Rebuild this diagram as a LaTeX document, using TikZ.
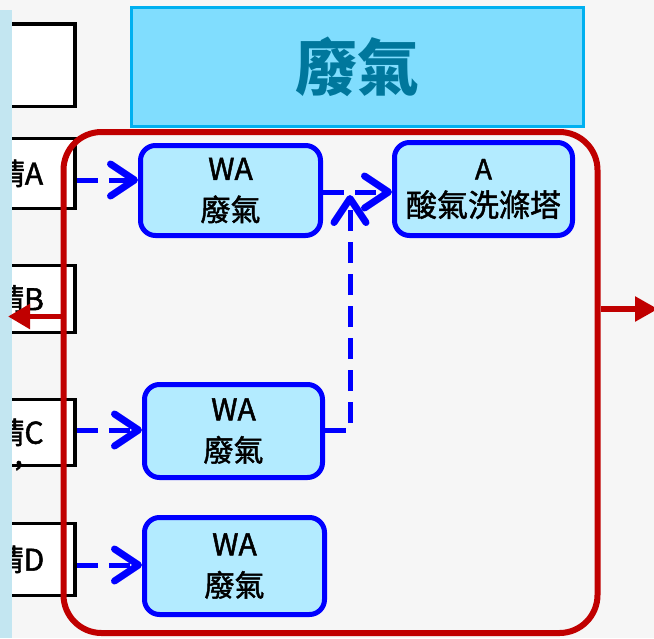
\documentclass[tikz,border=0pt]{standalone}
\usepackage{fontspec}
\setmainfont{Noto Sans CJK TC}
\newfontfamily\medfont{Noto Sans CJK TC}[FakeBold=1.6]
\usetikzlibrary{arrows.meta}
\definecolor{wallred}{HTML}{C00000}
\definecolor{gasblue}{HTML}{0000FF}
\definecolor{gasfill}{HTML}{B3EBFF}
\definecolor{headfill}{HTML}{80DDFE}
\definecolor{headline}{HTML}{00B0F0}
\definecolor{headtext}{HTML}{00779C}
\definecolor{sidebar}{HTML}{C3E6F1}
\definecolor{paper}{HTML}{F6F6F6}

\begin{document}
\begin{tikzpicture}[x=1pt, y=-1pt,
    sidebox/.style={draw=black, line width=3.5pt, fill=white, minimum width=112pt, inner sep=0pt, font=\medfont\fontsize{30}{36}\selectfont},
    gasbox/.style={draw=gasblue, line width=5pt, fill=gasfill, rounded corners=15pt, align=center, inner sep=0pt, font=\medfont\fontsize{30}{41}\selectfont},
    flow/.style={gasblue, line width=5pt, dash pattern=on 21pt off 11pt, -{Straight Barb[length=24pt,width=32pt,line width=0pt 1.4,round]}},
    exhaust/.style={wallred, line width=5.5pt, -{Triangle[length=22pt,width=24pt]}}]
  \useasboundingbox (0,0) rectangle (654,638);
  \fill[paper] (0,0) rectangle (654,638);
  % inlet boxes, cut off at the left edge
  \foreach \n/\y/\h/\t in {inT/65/82.5/{}, inA/173.5/70/請A, inB/299/67/請B, inC/432.5/66/{請C\rlap{\hspace{-29pt}\smash{\raisebox{-21pt}{,}}}}, inD/559.5/72/請D}
    \node[sidebox, minimum height=\h] (\n) at (19,\y) {\t};
  \fill[sidebar] (0,10) rectangle (12,638);
  \node[draw=headline, line width=3pt, fill=headfill, minimum width=452pt, minimum height=119pt, text=headtext, font=\fontsize{62}{70}\selectfont\bfseries] (head) at (357.5,67) {廢氣};
  \node[draw=wallred, line width=6pt, rounded corners=38pt, minimum width=534pt, minimum height=501pt] (wall) at (330.5,382.5) {};
  % waste gas sources and scrubber
  \node[gasbox, minimum width=180pt, minimum height=90pt] (wa1) at (230.5,190.5) {WA\\廢氣};
  \node[gasbox, minimum width=178pt, minimum height=93pt] (wa2) at (233.5,431) {WA\\廢氣};
  \node[gasbox, minimum width=180pt, minimum height=97pt] (wa3) at (234.5,566) {WA\\廢氣};
  \node[gasbox, minimum width=178pt, minimum height=93pt, font=\medfont\fontsize{31}{37}\selectfont] (scrub) at (483.5,189) {{\fontsize{28}{30}\selectfont A}\\酸氣洗滌塔};
  \coordinate (join) at (350,195);
  \coordinate (outW) at (8,316.5);
  \coordinate (outE) at (658,309);
  \draw[flow] ([yshift=-6.5pt]inA.east) -- ([yshift=10.5pt]wa1.west);
  \draw[flow] ([yshift=2.5pt]inC.east) -- ([yshift=1pt]wa2.west);
  \draw[flow] ([yshift=-5.5pt]inD.east) -- ([yshift=1pt]wa3.west);
  \draw[flow] ([yshift=-1.5pt]wa1.east) -- ([yshift=-3pt]scrub.west);
  \draw[flow] ([yshift=1pt]wa2.east) -| (join);
  \draw[exhaust] (wall.west |- outW) -- (outW);
  \draw[exhaust, -{Triangle[length=23pt,width=24pt]}] (wall.east |- outE) -- (outE);
\end{tikzpicture}
\end{document}
